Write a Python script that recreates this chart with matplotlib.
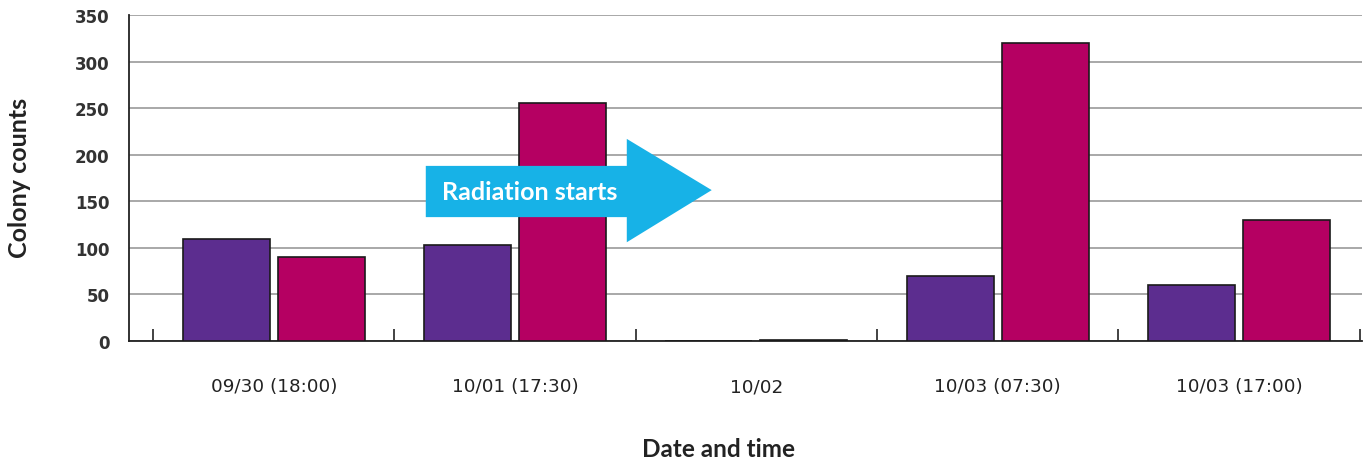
import matplotlib
matplotlib.use('Agg')
import matplotlib.pyplot as plt
from matplotlib.patches import Polygon
import numpy as np

# данные
categories = ['09/30 (18:00)', '10/01 (17:30)', '10/02', '10/03 (07:30)', '10/03 (17:00)']
purple_vals = [110, 103, 0, 70, 60]
magenta_vals = [90, 255, 1, 320, 130]
y_ticks = [0, 50, 100, 150, 200, 250, 300, 350]

fig = plt.figure(figsize=(13.64, 4.64), dpi=100)
ax = fig.add_axes([129/1364, 1 - 342/464, (1362 - 129)/1364, (342 - 16)/464])

x = np.arange(len(categories))
w = 0.36
off = 0.197
ax.bar(x - off, purple_vals, w, color='#5C2D8F', edgecolor='#1a1a1a', linewidth=1.2, zorder=3)
ax.bar(x + off, magenta_vals, w, color='#B50062', edgecolor='#1a1a1a', linewidth=1.2, zorder=3)

ax.set_xlim(-0.6, 4.51)
ax.set_ylim(0, 350)
ax.set_yticks(y_ticks)
ax.set_yticklabels([str(v) for v in y_ticks], fontfamily='DejaVu Sans',
                   fontweight='bold', fontsize=12, color='#333333')
ax.tick_params(axis='y', length=0, pad=14)

ax.set_xticks(x)
ax.set_xticklabels(categories, fontfamily='DejaVu Sans', fontsize=13.2, color='#222222')
ax.tick_params(axis='x', which='major', length=0, pad=26)
ax.set_xticks(np.arange(-0.5, len(categories)), minor=True)
ax.tick_params(axis='x', which='minor', direction='in', length=9, width=1.2, color='#222222')

ax.grid(axis='y', color='#999999', linewidth=1.2, zorder=0)
for s in ['top', 'right']:
    ax.spines[s].set_visible(False)
ax.spines['left'].set_linewidth(1.3)
ax.spines['bottom'].set_linewidth(1.3)
ax.spines['left'].set_color('#222222')
ax.spines['bottom'].set_color('#222222')

# стрелка "Radiation starts"
arrow = Polygon([(0.63, 133), (1.463, 133), (1.463, 106), (1.815, 162),
                 (1.463, 217), (1.463, 188), (0.63, 188)],
                closed=True, facecolor='#17B2E7', edgecolor='none', zorder=4)
ax.add_patch(arrow)
ax.text(1.06, 161, 'Radiation starts', color='white', fontsize=18, fontweight='bold',
        fontfamily='Lato', ha='center', va='center', zorder=5)

fig.text(20/1364, 1 - 178/464, 'Colony counts', rotation=90, fontsize=18, fontweight='bold',
         fontfamily='Lato', ha='center', va='center', color='#222222')
fig.text(718/1364, 1 - 450/464, 'Date and time', fontsize=17.5, fontweight='bold',
         fontfamily='Lato', ha='center', va='center', color='#222222')

fig.savefig('out.png', dpi=100)
